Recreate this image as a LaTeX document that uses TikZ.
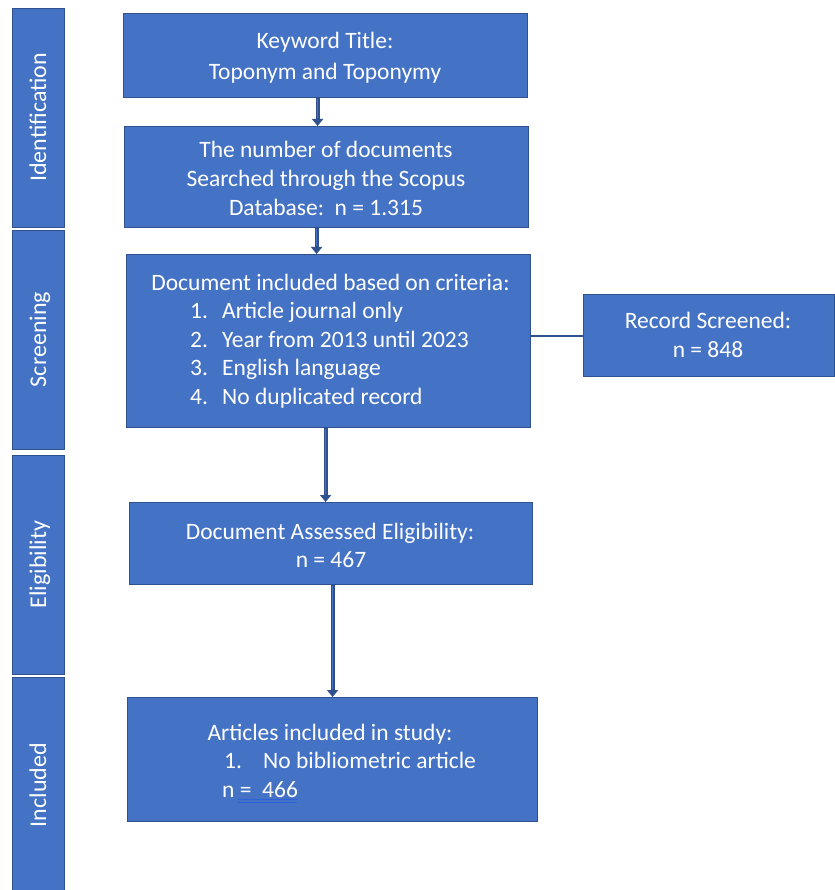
\documentclass[tikz,border=0pt]{standalone}
\usepackage{fontspec}
\setmainfont{Carlito}
\usetikzlibrary{arrows.meta,calc}
\definecolor{boxblue}{HTML}{4472C4}
\definecolor{edgeblue}{HTML}{2F528F}
\definecolor{spellblue}{HTML}{2E62D9}
\begin{document}
\begin{tikzpicture}[x=1pt,y=-1pt,
  box/.style={draw=edgeblue, line width=1.2pt, fill=boxblue, inner sep=0pt, anchor=north west},
  txt/.style={text=white, font=\fontsize{23.5}{29}\selectfont, inner sep=0pt},
  bartxt/.style={text=white, font=\fontsize{24}{29}\selectfont, inner sep=0pt, rotate=90, anchor=base},
  flow/.style={draw=edgeblue, line width=4pt, -{Triangle[length=7pt,width=11pt]}},
  flowcore/.style={draw=boxblue, line width=1.6pt, shorten >=8pt, shorten <=0.8pt},
  link/.style={draw=edgeblue, line width=2pt},
]
\useasboundingbox[fill=white] (0,0) rectangle (834,890);

% side bars
\node[box, minimum width=52pt, minimum height=219pt] (id)  at (12,8)   {};
\node[box, minimum width=52pt, minimum height=219pt] (scr) at (12,230) {};
\node[box, minimum width=52pt, minimum height=219pt] (eli) at (12,455) {};
\node[box, minimum width=52pt, minimum height=216pt] (inc) at (12,677) {};
\node[bartxt] (idt)  at (46,117.5) {Identification};
\node[bartxt] (scrt) at (46,339.5) {Screening};
\node[bartxt] (elit) at (46,564.5) {Eligibility};
\node[bartxt] (inct) at (46,785)   {Included};

% main boxes
\node[box, minimum width=404pt, minimum height=84pt]  (b1)  at (123,13)  {};
\node[box, minimum width=404pt, minimum height=101pt] (b2)  at (124,126) {};
\node[box, minimum width=404pt, minimum height=173pt] (b3)  at (126,254) {};
\node[box, minimum width=251pt, minimum height=82pt]  (rec) at (583,294) {};
\node[box, minimum width=403pt, minimum height=82pt]  (b4)  at (129,502) {};
\node[box, minimum width=410pt, minimum height=124pt] (b5)  at (127,697) {};

% texts box 1
\node[txt, anchor=base] (t1a) at (325,49) {Keyword Title:};
\node[txt, anchor=base] (t1b) at (325,80) {Toponym and Toponymy};
% box 2
\node[txt, anchor=base] (t2a) at (326,158) {The number of documents};
\node[txt, anchor=base] (t2b) at (326,187) {Searched through the Scopus};
\node[txt, anchor=base] (t2c) at (326,216) {Database:\ \ n = 1.315};
% box 3
\node[txt, anchor=base] (t3a) at (330.5,290) {Document included based on criteria:};
\node[txt, anchor=base west] (n31) at (190,318) {1.};
\node[txt, anchor=base west] (l31) at (222,318) {Article journal only};
\node[txt, anchor=base west] (n32) at (190,347) {2.};
\node[txt, anchor=base west] (l32) at (222,347) {Year from 2013 until 2023};
\node[txt, anchor=base west] (n33) at (190,375) {3.};
\node[txt, anchor=base west] (l33) at (222,375) {English language};
\node[txt, anchor=base west] (n34) at (190,404) {4.};
\node[txt, anchor=base west] (l34) at (222,404) {No duplicated record};
% record box
\node[txt, anchor=base] (tra) at (708,328) {Record Screened:};
\node[txt, anchor=base] (trb) at (708,357) {n = 848};
% box 4
\node[txt, anchor=base] (t4a) at (330,539) {Document Assessed Eligibility:};
\node[txt, anchor=base] (t4b) at (331,567) {n = 467};
% box 5
\node[txt, anchor=base] (t5a) at (330,740) {Articles included in study:};
\node[txt, anchor=base west] (n51) at (224,768) {1.};
\node[txt, anchor=base west] (l51) at (263,768) {No bibliometric article};
\node[txt, anchor=base west] (t5c) at (222,797) {n =\ \ 466};
\coordinate (ulA) at (238,799.5);
\coordinate (ulB) at (297,799.5);
\draw[spellblue, line width=0.9pt] (ulA) -- (ulB);
\draw[spellblue, line width=0.9pt] ([yshift=-2.6pt]ulA) -- ([yshift=-2.6pt]ulB);

% connectors
\draw[flow] ([xshift=-8pt]b1.south) -- ([xshift=-8pt]b1.south |- b2.north);
\draw[flowcore] ([xshift=-8pt]b1.south) -- ([xshift=-8pt]b1.south |- b2.north);
\draw[flow] ([xshift=-10pt]b2.south) -- ([xshift=-10pt]b2.south |- b3.north);
\draw[flowcore] ([xshift=-10pt]b2.south) -- ([xshift=-10pt]b2.south |- b3.north);
\draw[flow] ([xshift=-3pt]b3.south) -- ([xshift=-3pt]b3.south |- b4.north);
\draw[flowcore] ([xshift=-3pt]b3.south) -- ([xshift=-3pt]b3.south |- b4.north);
\draw[flow] ([xshift=1.5pt]b4.south) -- ([xshift=1.5pt]b4.south |- b5.north);
\draw[flowcore] ([xshift=1.5pt]b4.south) -- ([xshift=1.5pt]b4.south |- b5.north);
\draw[link] (rec.west -| b3.east) -- (rec.west);
\end{tikzpicture}
\end{document}
